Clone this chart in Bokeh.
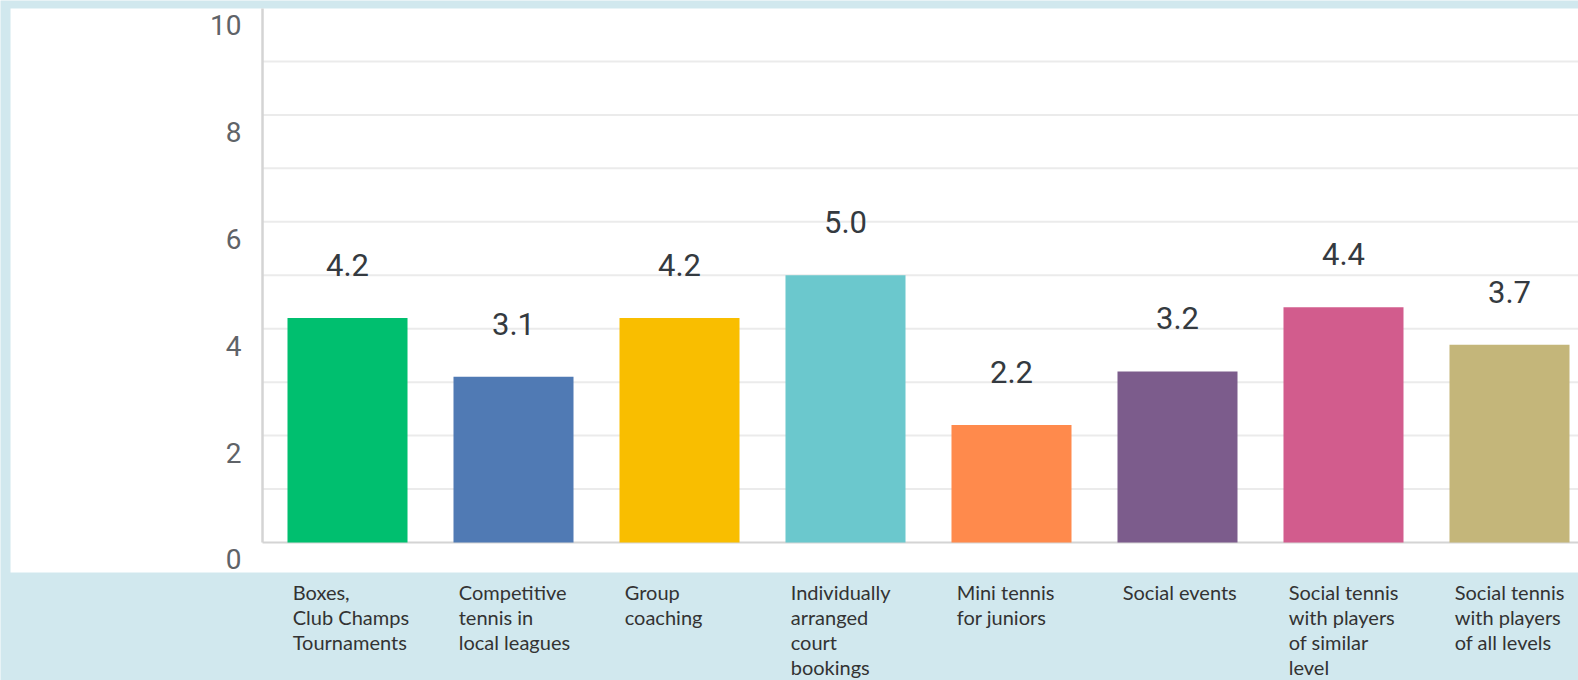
from bokeh.plotting import figure
from bokeh.models import Range1d, ColumnDataSource
from bokeh.core.properties import value
from bokeh.embed import file_html
from bokeh.resources import INLINE

# ---- data ----
categories = [
    "Boxes,\nClub Champs\nTournaments",
    "Competitive\ntennis in\nlocal leagues",
    "Group\ncoaching",
    "Individually\narranged\ncourt\nbookings",
    "Mini tennis\nfor juniors",
    "Social events",
    "Social tennis\nwith players\nof similar\nlevel",
    "Social tennis\nwith players\nof all levels",
]
scores = [4.2, 3.1, 4.2, 5.0, 2.2, 3.2, 4.4, 3.7]
bar_colors = ["#00bf6f", "#507ab4", "#f9be00", "#6bc8cd",
              "#ff8a4c", "#7c5c8c", "#d25c8d", "#c4b67a"]
y_ticks = [0, 2, 4, 6, 8, 10]
grid_values = [1, 2, 3, 4, 5, 6, 7, 8, 9]

BLUE_BG = "#d1e8ee"

p = figure(width=1578, height=680, output_backend="svg", toolbar_location=None,
           x_range=Range1d(-2.0904, 7.4157), y_range=Range1d(-2.582, 10.140),
           min_border=0, background_fill_color=BLUE_BG, border_fill_color=BLUE_BG)
p.xaxis.visible = False
p.yaxis.visible = False
p.xgrid.visible = False
p.ygrid.visible = False
p.outline_line_color = None

x_pos = list(range(len(categories)))
axis_x = -0.512
right_x = 7.4157

# white chart panel
p.quad(left=[-2.030], right=[right_x], bottom=[-0.561], top=[9.991],
       fill_color="white", line_color=None)

# gridlines
p.segment(x0=[axis_x] * len(grid_values), x1=[right_x] * len(grid_values),
          y0=grid_values, y1=grid_values, line_color="#ebebeb", line_width=2)
# baseline and vertical axis line
p.segment(x0=[axis_x], x1=[right_x], y0=[0], y1=[0], line_color="#d4d4d4", line_width=2)
p.segment(x0=[axis_x], x1=[axis_x], y0=[0], y1=[9.991], line_color="#d4d4d4", line_width=2.5)

# y tick labels (offset below their gridlines, as in the original)
p.text(x=[axis_x] * len(y_ticks), y=y_ticks, text=[str(t) for t in y_ticks],
       x_offset=-21, y_offset=17, text_align="right", text_baseline="middle",
       text_font=value("Roboto"), text_font_size="28px", text_color="#5f6368")

src = ColumnDataSource(dict(x=x_pos, top=scores, color=bar_colors,
                            label=[f"{s:.1f}" for s in scores], cat=categories,
                            cx=[i - 0.33 for i in x_pos],
                            cy=[-0.561] * len(categories)))

p.vbar(x="x", top="top", bottom=0, width=0.723, fill_color="color",
       line_color=None, source=src)

p.text(x="x", y="top", text="label", y_offset=-53, text_align="center",
       text_baseline="middle", text_font=value("Roboto"), text_font_size="31px",
       text_color="#343a40", source=src)

p.text(x="cx", y="cy", text="cat", y_offset=8, text_align="left",
       text_baseline="top", text_font=value("Lato"), text_font_size="20px",
       text_line_height=1.04, text_color="#333333", source=src)

open("out.html", "w").write(file_html(p, INLINE))
